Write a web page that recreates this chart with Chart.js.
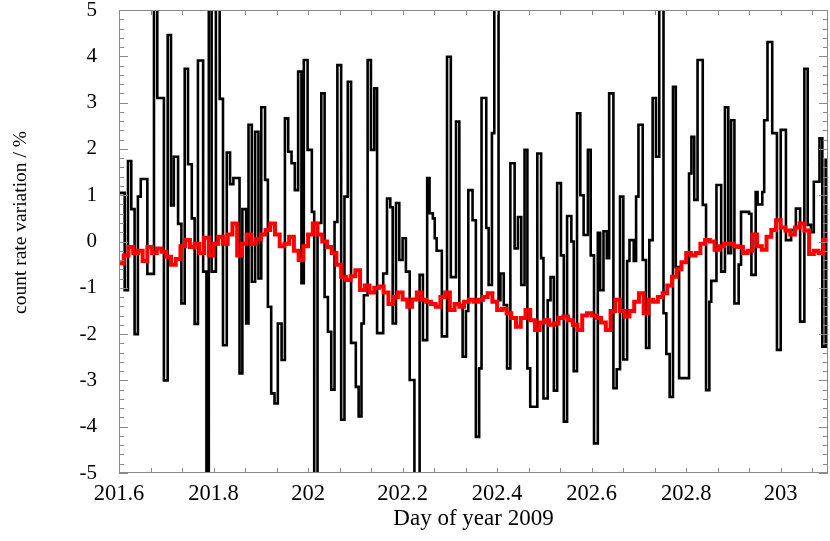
<!DOCTYPE html>
<html>
<head>
<meta charset="utf-8">
<script src="https://cdn.jsdelivr.net/npm/chart.js@4.4.1/dist/chart.umd.min.js"></script>
<style>
  html, body { margin: 0; padding: 0; background: #fff; }
  #wrap { width: 830px; height: 541px; }
</style>
</head>
<body>
<div id="wrap"><canvas id="c" width="830" height="541"></canvas></div>
<script>
// ---- data ----
// raw count-rate variation (black, stepped): start day of each level and its value (%)
const blackDay = [
  201.600,201.612,201.619,201.626,201.633,201.640,201.646,201.660,201.674,201.681,
  201.695,201.703,201.710,201.716,201.725,201.732,201.739,201.746,201.754,201.760,
  201.767,201.778,201.785,201.790,201.796,201.805,201.813,201.820,201.828,201.835,
  201.842,201.855,201.861,201.869,201.874,201.881,201.888,201.895,201.901,201.909,
  201.915,201.922,201.929,201.936,201.944,201.951,201.958,201.965,201.972,201.979,
  201.986,201.991,201.999,202.008,202.013,202.020,202.028,202.035,202.042,202.049,
  202.056,202.062,202.070,202.077,202.084,202.091,202.101,202.107,202.113,202.118,
  202.126,202.133,202.140,202.146,202.159,202.167,202.174,202.179,202.186,202.193,
  202.200,202.207,202.215,202.225,202.236,202.243,202.252,202.257,202.264,202.268,
  202.272,202.283,202.294,202.302,202.313,202.320,202.327,202.334,202.339,202.348,
  202.355,202.362,202.367,202.377,202.382,202.389,202.394,202.403,202.407,202.414,
  202.421,202.428,202.437,202.444,202.451,202.458,202.464,202.470,202.485,202.493,
  202.498,202.507,202.513,202.520,202.527,202.535,202.541,202.548,202.557,202.562,
  202.569,202.576,202.583,202.592,202.598,202.605,202.613,202.618,202.625,202.632,
  202.637,202.646,202.653,202.660,202.667,202.675,202.680,202.689,202.694,202.699,
  202.708,202.715,202.722,202.729,202.736,202.743,202.752,202.758,202.765,202.772,
  202.778,202.785,202.806,202.811,202.817,202.824,202.835,202.842,202.849,202.853,
  202.864,202.874,202.882,202.889,202.895,202.902,202.911,202.916,202.933,202.938,
  202.947,202.951,202.961,202.965,202.972,202.982,202.992,203.000,203.011,203.022,
  203.032,203.041,203.050,203.057,203.064,203.070,203.082,203.088,203.095,203.100
];
const blackRate = [
  1.05,-1.05,1.74,0.70,-2.00,0.97,1.35,-0.70,5.5,3.10,
  -3.00,4.46,0.78,1.83,0.38,-1.34,3.73,1.67,0.50,-1.78,
  3.91,-0.65,-5.5,5.5,-0.65,5.5,3.08,-2.24,1.92,1.24,
  1.37,-2.85,0.70,-1.77,2.52,-0.87,2.37,-0.80,2.90,1.33,
  -1.41,-3.28,-3.50,-1.77,-2.56,2.66,1.94,1.69,1.11,3.67,
  -0.90,3.92,1.98,0.64,-5.5,0.40,3.20,-1.20,-1.95,-3.20,
  0.42,3.81,-3.85,0.97,3.45,-2.19,-3.14,-3.78,-1.77,-1.16,
  3.92,1.98,3.31,-1.98,-0.69,0.93,0.74,-1.77,0.83,-0.40,
  0.07,-0.65,-2.99,-5.5,-0.72,-2.13,1.37,0.61,0.50,0.07,
  -0.20,-2.05,3.99,-0.77,2.59,-1.37,-2.49,-1.50,1.11,0.46,
  -4.22,-2.74,3.10,0.29,-0.94,2.34,5.5,-1.27,-0.69,-1.37,
  -2.74,1.69,-0.15,0.53,-0.94,1.98,-2.74,-3.57,1.90,-0.36,
  -3.39,-1.27,-0.77,-3.22,1.26,-0.30,-3.89,0.55,0.00,-2.80,
  2.77,1.00,0.14,1.98,-0.30,-4.36,0.19,-1.05,0.22,-0.36,
  3.20,-3.17,-2.76,0.97,-2.55,-0.42,0.03,-0.42,0.97,2.52,
  -0.40,-2.30,0.03,3.10,1.83,5.5,-1.55,-2.43,-3.36,3.34,
  -0.55,-2.95,1.47,2.26,0.90,3.92,0.79,-3.21,-1.30,-0.85,
  1.22,-0.65,2.90,-0.25,2.62,-1.34,-0.50,0.64,0.60,-0.72,
  1.07,0.80,1.07,2.62,4.31,2.34,-2.34,2.41,0.03,0.25,
  0.71,-1.73,3.73,0.36,0.20,1.29,2.23,-2.27,1.76,1.76
];
// corrected / averaged variation (red, stepped), sampled every 0.01 day from 201.6
const redStart = 201.6;
const redStep = 0.01;
const redRate = [
  -0.47,-0.30,-0.12,-0.25,-0.20,-0.42,-0.12,-0.25,-0.15,-0.22,
  -0.33,-0.50,-0.38,-0.10,0.03,-0.12,-0.05,-0.25,0.08,-0.30,
  -0.05,0.10,-0.05,0.15,0.39,-0.30,-0.05,0.15,-0.05,0.05,
  0.15,0.25,0.39,0.15,-0.10,-0.05,0.10,-0.20,-0.40,-0.10,
  0.15,0.39,0.15,0.00,-0.12,-0.25,-0.50,-0.76,-0.83,-0.75,
  -0.62,-1.05,-0.95,-1.10,-1.00,-0.97,-1.10,-1.35,-1.20,-1.10,
  -1.25,-1.41,-1.25,-1.10,-1.26,-1.30,-1.35,-1.41,-1.20,-1.10,
  -1.48,-1.35,-1.41,-1.30,-1.26,-1.30,-1.26,-1.20,-1.12,-1.30,
  -1.48,-1.45,-1.55,-1.65,-1.84,-1.65,-1.48,-1.70,-1.91,-1.75,
  -1.70,-1.80,-1.77,-1.65,-1.62,-1.70,-1.80,-1.91,-1.60,-1.55,
  -1.60,-1.65,-1.75,-1.91,-1.50,-1.26,-1.50,-1.62,-1.50,-1.30,
  -1.12,-1.55,-1.26,-1.30,-1.20,-1.12,-0.95,-0.76,-0.60,-0.45,
  -0.25,-0.30,-0.25,-0.05,0.03,0.00,-0.18,-0.10,-0.05,-0.05,
  -0.10,-0.12,-0.25,-0.20,0.15,-0.10,-0.18,0.10,0.25,0.46,
  0.30,0.24,0.15,0.30,0.39,0.24,-0.27,-0.20,-0.25,0.03,
  0.03
];
// axis ticks and labels
const xTickValues = [201.6, 201.8, 202, 202.2, 202.4, 202.6, 202.8, 203];
const xTickLabels = ['201.6', '201.8', '202', '202.2', '202.4', '202.6', '202.8', '203'];
const yTickValues = [-5, -4, -3, -2, -1, 0, 1, 2, 3, 4, 5];
const yTickLabels = ['-5', '-4', '-3', '-2', '-1', '0', '1', '2', '3', '4', '5'];
const xTitle = 'Day of year 2009';
const yTitle = 'count rate variation / %';

// ---- build chart ----
const blackPoints = blackDay.map((d, i) => ({ x: d, y: blackRate[i] }));
const redPoints = redRate.map((v, i) => ({ x: redStart + i * redStep, y: v }));

const SERIF = "'Liberation Serif', 'Times New Roman', serif";
const frameColor = '#8a8a8a';

const framePlugin = {
  id: 'frameTicks',
  afterDatasetsDraw(chart) {
    const { ctx, chartArea: a, scales } = chart;
    const x = scales.x, y = scales.y;
    ctx.save();
    ctx.strokeStyle = frameColor;
    ctx.lineWidth = 1;
    ctx.beginPath();
    for (let k = 0; k <= 30; k++) {
      const v = 201.6 + k * (0.2 / 3);
      if (v > 203.1 + 1e-9) break;
      const px = Math.round(x.getPixelForValue(v)) + 0.5;
      ctx.moveTo(px, a.bottom); ctx.lineTo(px, a.bottom - 5);
      ctx.moveTo(px, a.top); ctx.lineTo(px, a.top + 5);
    }
    for (let k = 0; k <= 50; k++) {
      const v = -5 + k * 0.2;
      const py = Math.round(y.getPixelForValue(v)) + 0.5;
      const len = (k % 5 === 0) ? 9 : 5;
      ctx.moveTo(a.left, py); ctx.lineTo(a.left + len, py);
      ctx.moveTo(a.right, py); ctx.lineTo(a.right - len, py);
    }
    ctx.stroke();
    ctx.strokeRect(Math.round(a.left) + 0.5, Math.round(a.top) + 0.5,
                   Math.round(a.width) - 1, Math.round(a.height) - 1);
    ctx.fillStyle = '#000';
    ctx.font = "19.5px " + SERIF;
    ctx.textAlign = 'center';
    ctx.textBaseline = 'middle';
    ctx.translate(20.5, 222.5);
    ctx.rotate(-Math.PI / 2);
    ctx.fillText(yTitle, 0, 0);
    ctx.restore();
  }
};

new Chart(document.getElementById('c'), {
  type: 'line',
  data: {
    datasets: [
      { label: 'corrected', data: redPoints, borderColor: '#ff0000', borderWidth: 4,
        stepped: 'before', pointRadius: 0, order: 0, clip: 0, fill: false },
      { label: 'raw', data: blackPoints, borderColor: '#000000', borderWidth: 2.6,
        stepped: 'before', pointRadius: 0, order: 1, clip: 0, fill: false }
    ]
  },
  options: {
    responsive: false,
    animation: false,
    devicePixelRatio: 1,
    layout: { padding: { top: 10, right: 2, bottom: 0, left: 0 } },
    plugins: { legend: { display: false }, tooltip: { enabled: false } },
    scales: {
      x: {
        type: 'linear', min: 201.6, max: 203.1,
        afterBuildTicks: s => { s.ticks = xTickValues.map(v => ({ value: v })); },
        ticks: {
          callback: (v, i) => xTickLabels[i],
          font: { family: SERIF, size: 22.5 }, color: '#000', padding: 8,
          maxRotation: 0, autoSkip: false
        },
        grid: { display: false, drawTicks: false },
        border: { display: false },
        title: { display: true, text: xTitle, color: '#000',
                 font: { family: SERIF, size: 23 }, padding: { top: 0, bottom: 8 } },
        afterFit: s => { s.height = 68; s.paddingLeft = 0; s.paddingRight = 0; }
      },
      y: {
        type: 'linear', min: -5, max: 5,
        afterBuildTicks: s => { s.ticks = yTickValues.map(v => ({ value: v })); },
        ticks: {
          callback: (v, i) => yTickLabels[i],
          font: { family: SERIF, size: 21 }, color: '#000', padding: 22, autoSkip: false
        },
        grid: { display: false, drawTicks: false },
        border: { display: false },
        afterFit: s => { s.width = 119; s.paddingTop = 0; s.paddingBottom = 0; }
      }
    }
  },
  plugins: [framePlugin]
});
</script>
</body>
</html>
